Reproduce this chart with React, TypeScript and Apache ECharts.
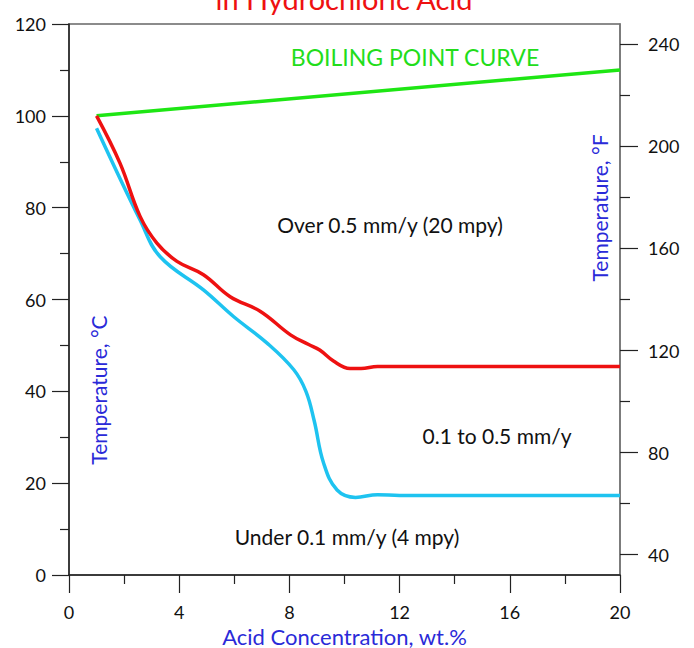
import React, { useEffect, useRef } from "react";
import * as echarts from "echarts";

// Acid concentration (wt.%) vs temperature (°C)
const boilingPointCurve: [number, number][] = [
  [1, 100],
  [20, 110],
];
const isoOver05: [number, number][] = [
  [1, 100], [1.85, 89.7], [2.58, 78.1], [3.19, 72.3], [3.92, 68.3], [4.88, 65.4],
  [5.85, 60.6], [6.95, 57.4], [8.04, 52.3], [8.7, 50.2], [9.1, 49.0], [9.6, 46.6],
  [10.2, 45.0], [10.6, 45.0], [11.2, 45.4], [20, 45.4],
];
const isoUnder01: [number, number][] = [
  [1, 97.3], [2.58, 77.3], [3.31, 69.3], [4.88, 62.1], [5.97, 56.3], [7.19, 50.5],
  [8.16, 44.7], [8.6, 40.0], [8.9, 33.6], [9.24, 24.4], [9.73, 18.5], [10.4, 16.9],
  [11.2, 17.5], [12.0, 17.3], [20, 17.3],
];
const xTickInterval = 4;
const celsiusInterval = 20;
const fahrenheitLabels = [40, 80, 120, 160, 200, 240];
const fahrenheitMinor = [60, 100, 140, 180, 220];

const regionLabels = {
  boiling: "BOILING POINT CURVE",
  over: "Over 0.5 mm/y (20 mpy)",
  mid: "0.1 to 0.5 mm/y",
  under: "Under 0.1 mm/y (4 mpy)",
};

const FONT = "Lato, 'DejaVu Sans', sans-serif";
const BLUE = "#2a2ad8";

export default function App() {
  const ref = useRef<HTMLDivElement>(null);
  useEffect(() => {
    if (!ref.current) return;
    const chart = echarts.init(ref.current, null, { renderer: "svg" });
    const tickColor = "#222";
    chart.setOption({
      animation: false,
      backgroundColor: "#fff",
      textStyle: { fontFamily: FONT },
      grid: {
        left: 69, right: 74, top: 24, bottom: 73,
        containLabel: false, outerBoundsMode: "none",
        show: true, borderColor: "#666", borderWidth: 1.5,
      },
      xAxis: {
        type: "value",
        min: 0,
        max: 20,
        interval: xTickInterval,
        axisLine: { lineStyle: { color: tickColor, width: 1.5 } },
        axisTick: { length: 18, lineStyle: { color: tickColor, width: 1.2 } },
        minorTick: { show: true, splitNumber: 2, length: 9, lineStyle: { color: tickColor, width: 1.2 } },
        axisLabel: { margin: 28, fontSize: 18, color: "#111", fontFamily: FONT },
        splitLine: { show: false },
        name: "Acid Concentration, wt.%",
        nameLocation: "middle",
        nameGap: 48,
        nameTextStyle: { color: BLUE, fontSize: 22, fontFamily: FONT },
      },
      yAxis: [
        {
          type: "value",
          position: "left",
          min: 0,
          max: 120,
          interval: celsiusInterval,
          axisLine: { show: true, lineStyle: { color: tickColor, width: 1.5 } },
          axisTick: { length: 17, lineStyle: { color: tickColor, width: 1.2 } },
          minorTick: { show: true, splitNumber: 2, length: 9, lineStyle: { color: tickColor, width: 1.2 } },
          axisLabel: { margin: 23, fontSize: 18, color: "#111", fontFamily: FONT },
          splitLine: { show: false },
        },
        {
          type: "value",
          position: "right",
          min: 32,
          max: 248,
          axisLine: { show: true, lineStyle: { color: "#777", width: 1.5 } },
          axisTick: { show: true, customValues: fahrenheitLabels, length: 18, lineStyle: { color: tickColor, width: 1.2 } },
          axisLabel: { show: true, customValues: fahrenheitLabels, margin: 28, fontSize: 18, color: "#111", fontFamily: FONT },
          splitLine: { show: false },
        },
        {
          type: "value",
          position: "right",
          min: 32,
          max: 248,
          axisLine: { show: false },
          axisTick: { show: true, customValues: fahrenheitMinor, length: 10, lineStyle: { color: tickColor, width: 1.2 } },
          axisLabel: { show: false },
          splitLine: { show: false },
        },
      ],
      series: [
        {
          type: "line",
          data: boilingPointCurve,
          showSymbol: false,
          lineStyle: { color: "#1ee614", width: 3.5 },
          z: 3,
        },
        {
          type: "line",
          data: isoUnder01,
          smooth: 0.4,
          showSymbol: false,
          lineStyle: { color: "#1ec3f0", width: 3.5 },
          z: 2,
        },
        {
          type: "line",
          data: isoOver05,
          smooth: 0.4,
          showSymbol: false,
          lineStyle: { color: "#ee1111", width: 3.5 },
          z: 4,
        },
      ],
      graphic: [
        {
          type: "text",
          x: 344,
          y: 13,
          style: { text: "in Hydrochloric Acid", fill: "#ee1111", fontSize: 29, fontFamily: FONT, align: "center", verticalAlign: "bottom" },
        },
        {
          type: "text",
          x: 415,
          y: 57,
          style: { text: regionLabels.boiling, fill: "#22dd1a", fontSize: 23, fontFamily: FONT, align: "center", verticalAlign: "middle" },
        },
        {
          type: "text",
          x: 390,
          y: 224,
          style: { text: regionLabels.over, fill: "#111", fontSize: 21, fontFamily: FONT, align: "center", verticalAlign: "middle" },
        },
        {
          type: "text",
          x: 497,
          y: 435,
          style: { text: regionLabels.mid, fill: "#111", fontSize: 21, fontFamily: FONT, align: "center", verticalAlign: "middle" },
        },
        {
          type: "text",
          x: 347,
          y: 536,
          style: { text: regionLabels.under, fill: "#111", fontSize: 21, fontFamily: FONT, align: "center", verticalAlign: "middle" },
        },
        {
          type: "text",
          x: 98,
          y: 390,
          rotation: Math.PI / 2,
          style: { text: "Temperature, °C", fill: BLUE, fontSize: 21, fontFamily: FONT, align: "center", verticalAlign: "middle" },
        },
        {
          type: "text",
          x: 599,
          y: 208,
          rotation: Math.PI / 2,
          style: { text: "Temperature, °F", fill: BLUE, fontSize: 21, fontFamily: FONT, align: "center", verticalAlign: "middle" },
        },
      ],
    });
    return () => chart.dispose();
  }, []);
  return <div ref={ref} style={{ position: "fixed", left: 0, top: 0, width: 694, height: 648 }} />;
}
